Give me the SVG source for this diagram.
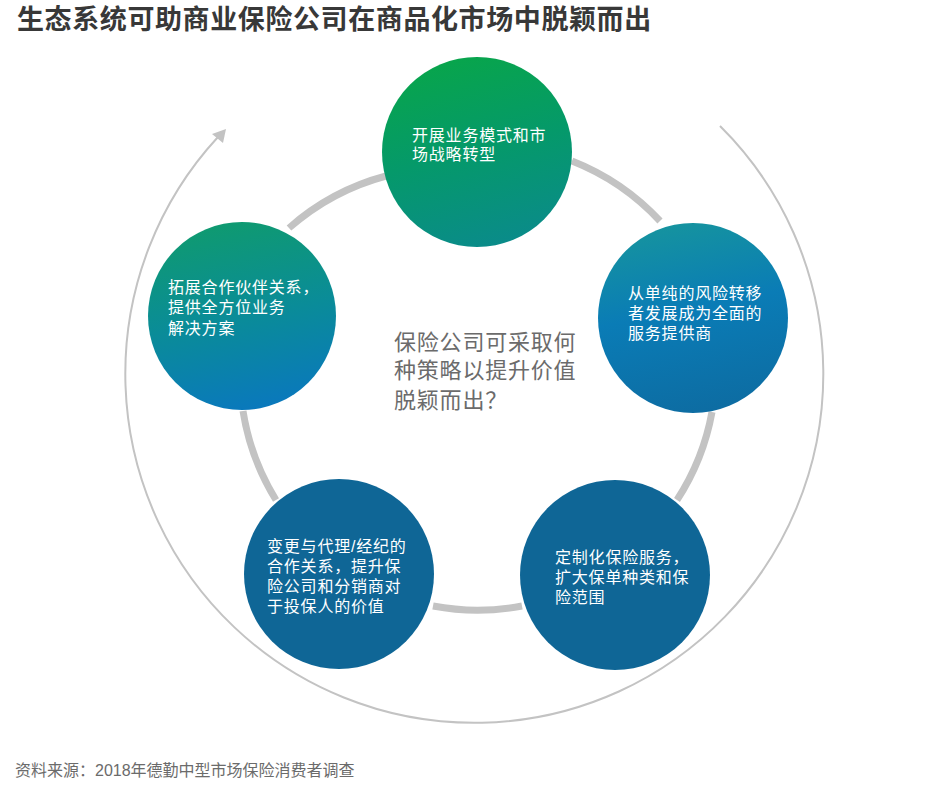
<svg xmlns="http://www.w3.org/2000/svg" width="939" height="789" viewBox="0 0 939 789">
<style>
text{font-family:"Liberation Sans","Noto Sans CJK SC",sans-serif}
.title{font-size:27px;font-weight:bold;fill:#383838;letter-spacing:0.6px}
.lbl{font-size:16px;fill:#ffffff;letter-spacing:0.8px}
.center{font-size:22px;fill:#6b6b6b;letter-spacing:0.8px}
.src{font-size:16px;fill:#6b6b6b}
.conn{fill:none;stroke:#c3c3c3;stroke-width:7}
.ring{fill:none;stroke:#c3c3c3;stroke-width:2}
</style>
<defs>
<linearGradient id="gTop" x1="0.35" y1="0" x2="0.6" y2="1">
<stop offset="0" stop-color="#08a54b"/>
<stop offset="0.5" stop-color="#05996a"/>
<stop offset="1" stop-color="#0a8b8a"/>
</linearGradient>
<linearGradient id="gRight" x1="0.4" y1="0" x2="0.6" y2="1">
<stop offset="0" stop-color="#15939f"/>
<stop offset="0.45" stop-color="#0a7cb6"/>
<stop offset="1" stop-color="#0d6ca2"/>
</linearGradient>
<linearGradient id="gLeft" x1="0.4" y1="0" x2="0.6" y2="1">
<stop offset="0" stop-color="#0f9a70"/>
<stop offset="0.5" stop-color="#0a8c98"/>
<stop offset="1" stop-color="#0a78bd"/>
</linearGradient>
</defs>
<rect width="939" height="789" fill="#ffffff"/>
<text class="title" x="17" y="29">生态系统可助商业保险公司在商品化市场中脱颖而出</text>
<g id="connectors">
<path class="ring" d="M 720 126 A 349 349 0 1 1 218 137"/>
<polygon points="226,129 212,134 223,143" fill="#c3c3c3"/>
<path class="conn" d="M 289 228 A 240 240 0 0 1 386 176"/>
<path class="conn" d="M 572 161 A 240 240 0 0 1 660 221"/>
<path class="conn" d="M 712 412 A 240 240 0 0 1 677 500"/>
<path class="conn" d="M 522 606 A 240 240 0 0 1 433 606"/>
<path class="conn" d="M 276 500 A 240 240 0 0 1 243 411"/>
</g>
<g id="node-top">
<circle cx="477" cy="152" r="95" fill="url(#gTop)"/>
<text class="lbl" x="412" y="141">开展业务模式和市</text>
<text class="lbl" x="412" y="159.5">场战略转型</text>
</g>
<g id="node-right">
<circle cx="693" cy="318" r="95" fill="url(#gRight)"/>
<text class="lbl" x="628" y="299">从单纯的风险转移</text>
<text class="lbl" x="628" y="319">者发展成为全面的</text>
<text class="lbl" x="628" y="339">服务提供商</text>
</g>
<g id="node-bottom-right">
<circle cx="615" cy="575" r="95" fill="#0f6696"/>
<text class="lbl" x="555" y="562.5">定制化保险服务，</text>
<text class="lbl" x="555" y="582.5">扩大保单种类和保</text>
<text class="lbl" x="555" y="602.5">险范围</text>
</g>
<g id="node-bottom-left">
<circle cx="339" cy="574" r="95" fill="#0f6696"/>
<text class="lbl" x="267" y="552">变更与代理/经纪的</text>
<text class="lbl" x="267" y="572">合作关系，提升保</text>
<text class="lbl" x="267" y="592">险公司和分销商对</text>
<text class="lbl" x="267" y="612">于投保人的价值</text>
</g>
<g id="node-left">
<circle cx="242" cy="316" r="94" fill="url(#gLeft)"/>
<text class="lbl" x="168" y="292.5">拓展合作伙伴关系，</text>
<text class="lbl" x="168" y="313">提供全方位业务</text>
<text class="lbl" x="168" y="333.5">解决方案</text>
</g>
<g id="center-question">
<text class="center" x="394" y="349.5">保险公司可采取何</text>
<text class="center" x="394" y="378">种策略以提升价值</text>
<text class="center" x="394" y="408">脱颖而出？</text>
</g>
<text class="src" x="15" y="775.5">资料来源：2018年德勤中型市场保险消费者调查</text>
</svg>
